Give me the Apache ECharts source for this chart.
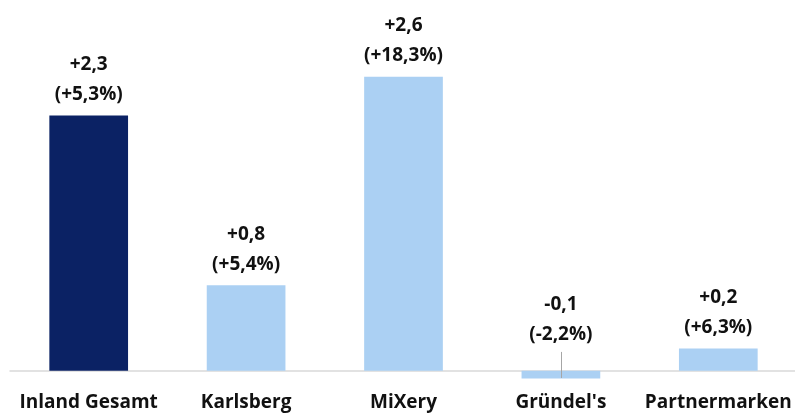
<!DOCTYPE html>
<html>
<head>
<meta charset="utf-8">
<script src="https://cdn.jsdelivr.net/npm/echarts@6/dist/echarts.min.js"></script>
<style>
  html, body { margin: 0; padding: 0; background: #fff; }
  #chart { width: 795px; height: 413px; }
</style>
</head>
<body>
<div id="chart"></div>
<script>
  // categories and values (absolute change, relative change)
  var categories = ["Inland Gesamt", "Karlsberg", "MiXery", "Gründel's", "Partnermarken"];
  var values = [2.3, 0.77, 2.65, -0.07, 0.2];
  var deltaLabels = ["+2,3", "+0,8", "+2,6", "-0,1", "+0,2"];
  var pctLabels = ["(+5,3%)", "(+5,4%)", "(+18,3%)", "(-2,2%)", "(+6,3%)"];
  var barColors = ["#0b2264", "#abd0f3", "#abd0f3", "#abd0f3", "#abd0f3"];
  // leader line for the small negative bar
  var leaderFrom = -0.065;
  var leaderTo = 0.17;

  var fontFamily = "'Open Sans', 'Noto Sans', sans-serif";

  var chart = echarts.init(document.getElementById("chart"));

  var barData = values.map(function (v, i) {
    var item = { value: v, itemStyle: { color: barColors[i] } };
    if (v < 0) {
      item.label = { position: "top", distance: 21 };
    }
    return item;
  });

  chart.setOption({
    animation: false,
    grid: {
      left: 10,
      right: -2,
      top: 60,
      bottom: 20,
      containLabel: false,
      outerBoundsMode: "none"
    },
    xAxis: {
      type: "category",
      data: categories,
      axisLine: { onZero: true, lineStyle: { color: "#d9d9d9", width: 1.5 } },
      axisTick: { show: false },
      axisLabel: {
        margin: 0,
        color: "#111",
        fontSize: 19,
        fontWeight: "bold",
        fontFamily: fontFamily,
        interval: 0
      }
    },
    yAxis: {
      type: "value",
      min: -0.2,
      max: 2.8,
      show: false,
      splitLine: { show: false }
    },
    series: [
      {
        type: "bar",
        data: barData,
        barWidth: "50%",
        label: {
          show: true,
          position: "top",
          distance: 6,
          color: "#111",
          fontSize: 19,
          fontWeight: "bold",
          fontFamily: fontFamily,
          lineHeight: 30,
          formatter: function (p) {
            return deltaLabels[p.dataIndex] + "\n" + pctLabels[p.dataIndex];
          }
        },
        markLine: {
          silent: true,
          symbol: "none",
          label: { show: false },
          lineStyle: { color: "#a6a6a6", width: 1, type: "solid" },
          data: [
            [
              { coord: [categories[3], leaderFrom] },
              { coord: [categories[3], leaderTo] }
            ]
          ]
        }
      }
    ]
  });
</script>
</body>
</html>
